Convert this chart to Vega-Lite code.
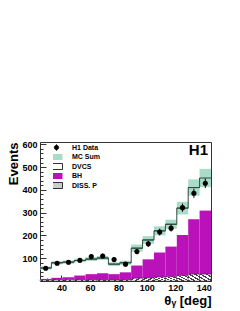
{
  "$schema": "https://vega.github.io/schema/vega-lite/v6.json",
  "width": 171,
  "height": 139,
  "autosize": "none",
  "padding": {"left": 40, "top": 142, "right": 29, "bottom": 30},
  "background": "white",
  "config": {
    "view": {"stroke": "#333", "strokeWidth": 1},
    "font": "Liberation Sans",
    "legend": {"symbolSize": 16, "symbolStrokeWidth": 0.8},
    "axis": {"labelFont": "Liberation Sans", "labelFontWeight": "bold", "labelFontSize": 9, "labelColor": "black", "tickColor": "#333", "domain": false, "grid": false, "titleFont": "Liberation Sans", "titleFontWeight": "bold", "titleColor": "black"}
  },
  "title": {"text": "H1", "anchor": "end", "frame": "group", "fontSize": 15, "fontWeight": "bold", "font": "Liberation Sans", "color": "black", "baseline": "top", "offset": -4, "dy": 14, "dx": -3},
  "data": {"values": [
    {"lo": 25, "hi": 33, "c": 29, "n": 56, "dlo": 49, "dhi": 63, "mc": 57, "mclo": 50, "mchi": 64, "bh": 9, "diss": 5},
    {"lo": 33, "hi": 41, "c": 37, "n": 78, "dlo": 69, "dhi": 87, "mc": 80, "mclo": 73, "mchi": 87, "bh": 14, "diss": 5},
    {"lo": 41, "hi": 49, "c": 45, "n": 82, "dlo": 73, "dhi": 91, "mc": 83, "mclo": 76, "mchi": 90, "bh": 16, "diss": 5},
    {"lo": 49, "hi": 57, "c": 53, "n": 91, "dlo": 81, "dhi": 101, "mc": 90, "mclo": 82, "mchi": 98, "bh": 24, "diss": 5},
    {"lo": 57, "hi": 65, "c": 61, "n": 107, "dlo": 97, "dhi": 117, "mc": 96, "mclo": 88, "mchi": 105, "bh": 30, "diss": 5},
    {"lo": 65, "hi": 73, "c": 69, "n": 110, "dlo": 100, "dhi": 120, "mc": 101, "mclo": 92, "mchi": 110, "bh": 34, "diss": 5},
    {"lo": 73, "hi": 81, "c": 77, "n": 94, "dlo": 84, "dhi": 104, "mc": 74, "mclo": 66, "mchi": 82, "bh": 30, "diss": 4},
    {"lo": 81, "hi": 89, "c": 85, "n": 74, "dlo": 65, "dhi": 83, "mc": 80, "mclo": 71, "mchi": 89, "bh": 38, "diss": 5},
    {"lo": 89, "hi": 97, "c": 93, "n": 129, "dlo": 118, "dhi": 140, "mc": 144, "mclo": 128, "mchi": 160, "bh": 68, "diss": 12},
    {"lo": 97, "hi": 105, "c": 101, "n": 163, "dlo": 150, "dhi": 176, "mc": 180, "mclo": 163, "mchi": 197, "bh": 95, "diss": 13},
    {"lo": 105, "hi": 113, "c": 109, "n": 215, "dlo": 200, "dhi": 230, "mc": 220, "mclo": 200, "mchi": 240, "bh": 125, "diss": 17},
    {"lo": 113, "hi": 121, "c": 117, "n": 232, "dlo": 217, "dhi": 247, "mc": 249, "mclo": 229, "mchi": 269, "bh": 151, "diss": 19},
    {"lo": 121, "hi": 129, "c": 125, "n": 322, "dlo": 304, "dhi": 340, "mc": 320, "mclo": 292, "mchi": 348, "bh": 202, "diss": 24},
    {"lo": 129, "hi": 137, "c": 133, "n": 385, "dlo": 365, "dhi": 405, "mc": 410, "mclo": 374, "mchi": 446, "bh": 271, "diss": 30},
    {"lo": 137, "hi": 145, "c": 141, "n": 429, "dlo": 408, "dhi": 450, "mc": 452, "mclo": 412, "mchi": 492, "bh": 309, "diss": 30}
  ]},
  "encoding": {
    "x": {"field": "lo", "type": "quantitative",
      "scale": {"domain": [25, 145], "nice": false, "zero": false},
      "axis": {"title": "θᵧ [deg]", "titleFontSize": 13, "titleAnchor": "end", "titlePadding": 2,
        "values": [30,35,40,45,50,55,60,65,70,75,80,85,90,95,100,105,110,115,120,125,130,135,140,145],
        "labelExpr": "datum.value % 20 === 0 ? datum.label : ''",
        "tickSize": {"condition": {"test": "datum.value % 20 === 0", "value": -6}, "value": -3},
        "labelPadding": 8}
    },
    "y": {"type": "quantitative",
      "scale": {"domain": [0, 610], "nice": false},
      "axis": {"title": "Events", "titleFontSize": 13, "titleAngle": 270, "titleAlign": "right", "titleBaseline": "middle", "titleX": -27, "titleY": 0,
        "values": [20,40,60,80,100,120,140,160,180,200,220,240,260,280,300,320,340,360,380,400,420,440,460,480,500,520,540,560,580,600],
        "labelExpr": "datum.value % 100 === 0 ? datum.label : ''",
        "tickSize": {"condition": {"test": "datum.value % 100 === 0", "value": -6}, "value": -3},
        "labelPadding": 9}
    }
  },
  "layer": [
    {"mark": {"type": "rect"},
     "encoding": {"x2": {"field": "hi"}, "y": {"field": "mclo"}, "y2": {"field": "mchi"},
       "color": {"datum": "MC Sum",
         "scale": {"domain": ["H1 Data", "MC Sum", "DVCS", "BH", "DISS. P"], "range": ["black", "#a8dcc8", "white", "#bb11bb", "#cccccc"]},
         "legend": {"title": null, "orient": "none", "legendX": 13, "legendY": 2, "labelFont": "Liberation Sans", "labelFontWeight": "bold", "labelFontSize": 7, "labelColor": "black", "symbolSize": 16, "symbolStrokeWidth": 0.8, "labelOffset": 12, "rowPadding": 1.5, "clipHeight": 7, "padding": 0,
           "encode": {"symbols": {"update": {
             "size": {"value": 16},
             "shape": {"signal": "datum.value === 'H1 Data' ? 'M0,-1.6V1.6M-1.1,0A1.1,1.1 0 1,0 1.1,0A1.1,1.1 0 1,0 -1.1,0Z' : 'M-3,-1.5H3V1.5H-3Z'"},
             "fill": {"signal": "datum.value === 'H1 Data' ? 'black' : datum.value === 'MC Sum' ? {gradient: 'linear', x1: 0, y1: 0, x2: 0, y2: 1, stops: [{offset: 0, color: '#a8dcc8'}, {offset: 0.4, color: '#a8dcc8'}, {offset: 0.4, color: '#2e4a3c'}, {offset: 0.6, color: '#2e4a3c'}, {offset: 0.6, color: '#a8dcc8'}, {offset: 1, color: '#a8dcc8'}]} : datum.value === 'DVCS' ? 'white' : datum.value === 'BH' ? '#bb11bb' : {gradient: 'linear', x1: 0, y1: 1, x2: 1, y2: 0, stops: [{offset: 0, color: '#444'}, {offset: 0.05, color: '#444'}, {offset: 0.05, color: '#fff'}, {offset: 0.125, color: '#fff'}, {offset: 0.125, color: '#444'}, {offset: 0.175, color: '#444'}, {offset: 0.175, color: '#fff'}, {offset: 0.25, color: '#fff'}, {offset: 0.25, color: '#444'}, {offset: 0.3, color: '#444'}, {offset: 0.3, color: '#fff'}, {offset: 0.375, color: '#fff'}, {offset: 0.375, color: '#444'}, {offset: 0.425, color: '#444'}, {offset: 0.425, color: '#fff'}, {offset: 0.5, color: '#fff'}, {offset: 0.5, color: '#444'}, {offset: 0.55, color: '#444'}, {offset: 0.55, color: '#fff'}, {offset: 0.625, color: '#fff'}, {offset: 0.625, color: '#444'}, {offset: 0.675, color: '#444'}, {offset: 0.675, color: '#fff'}, {offset: 0.75, color: '#fff'}, {offset: 0.75, color: '#444'}, {offset: 0.8, color: '#444'}, {offset: 0.8, color: '#fff'}, {offset: 0.875, color: '#fff'}, {offset: 0.875, color: '#444'}, {offset: 0.925, color: '#444'}, {offset: 0.925, color: '#fff'}, {offset: 1, color: '#fff'}]}"},
             "stroke": {"signal": "datum.value === 'H1 Data' || datum.value === 'DVCS' || datum.value === 'DISS. P' ? 'black' : 'transparent'"},
             "strokeWidth": {"value": 0.8},
             "opacity": {"value": 1}
           }}}
         }
       }
     }
    },
    {"mark": {"type": "line", "interpolate": "step-after", "color": "#2e4a3c", "strokeWidth": 1},
     "encoding": {"y": {"field": "mc"}}},
    {"mark": {"type": "rule", "color": "#2e4a3c", "strokeWidth": 1},
     "encoding": {"x2": {"field": "hi"}, "y": {"field": "mc"}}},
    {"mark": {"type": "rect"},
     "encoding": {"x2": {"field": "hi"}, "y": {"field": "bh"}, "y2": {"datum": 0}, "color": {"datum": "BH"}}},
    {"mark": {"type": "rect", "stroke": "#222", "strokeWidth": 0.4,
       "fill": {"gradient": "linear", "x1": 0, "y1": 1, "x2": 1, "y2": 0, "stops": [
         {"offset": 0, "color": "#444"}, {"offset": 0.1, "color": "#444"}, {"offset": 0.1, "color": "#fff"}, {"offset": 0.25, "color": "#fff"},
         {"offset": 0.25, "color": "#444"}, {"offset": 0.35, "color": "#444"}, {"offset": 0.35, "color": "#fff"}, {"offset": 0.5, "color": "#fff"},
         {"offset": 0.5, "color": "#444"}, {"offset": 0.6, "color": "#444"}, {"offset": 0.6, "color": "#fff"}, {"offset": 0.75, "color": "#fff"},
         {"offset": 0.75, "color": "#444"}, {"offset": 0.85, "color": "#444"}, {"offset": 0.85, "color": "#fff"}, {"offset": 1, "color": "#fff"}]}},
     "encoding": {"x2": {"field": "hi"}, "y": {"field": "diss"}, "y2": {"datum": 0}}},
    {"mark": {"type": "rule", "color": "black", "strokeWidth": 1},
     "encoding": {"x": {"field": "c"}, "y": {"field": "dlo"}, "y2": {"field": "dhi"}}},
    {"mark": {"type": "point", "filled": true, "color": "black", "size": 26, "opacity": 1, "shape": "circle"},
     "encoding": {"x": {"field": "c"}, "y": {"field": "n"}}}
  ]
}
